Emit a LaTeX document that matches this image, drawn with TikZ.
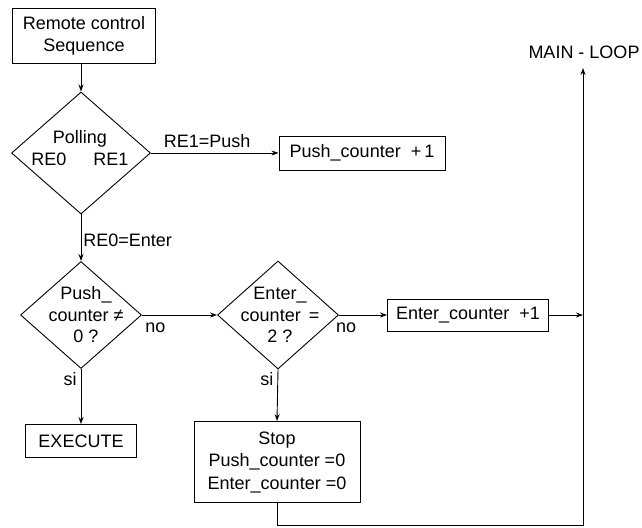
\documentclass[tikz,border=0pt]{standalone}
\usepackage{fontspec}
\setmainfont{Liberation Sans}
\usetikzlibrary{arrows.meta,shapes.geometric}

\begin{document}
\begin{tikzpicture}[x=1pt,y=-1pt,>={Stealth[length=7pt,width=5pt]},line width=0.9pt,
  every node/.style={font=\fontsize{18}{22}\selectfont},
  box/.style={draw,rectangle,inner sep=0pt,align=center},
  dia/.style={draw,diamond,inner sep=0pt},
  txt/.style={align=center,inner sep=0pt},
  lbl/.style={inner sep=2pt}]
\useasboundingbox (0,0) rectangle (642,527);
\node[box,minimum width=143pt,minimum height=55pt] (seq) at (84,36) {Remote control\\Sequence};
\node[dia,minimum width=139pt,minimum height=122pt] (poll) at (81,153) {};
\node[txt] (pollT) at (80,148) {Polling\\RE0\hspace{1.5em}RE1};
\node[box,minimum width=166pt,minimum height=34pt] (push) at (362,153) {Push\_counter\ \ +\,1};
\node[dia,minimum width=121pt,minimum height=107pt] (pushq) at (81,315) {};
\node[txt,font=\fontsize{18}{21.5}\selectfont] (pushqT) at (86,315) {Push\_\\counter ≠\\0 ?};
\node[box,minimum width=111pt,minimum height=33pt] (exec) at (81,441) {EXECUTE};
\node[dia,minimum width=121pt,minimum height=108pt] (enterq) at (278,315) {};
\node[txt,font=\fontsize{18}{21.5}\selectfont] (enterqT) at (280,315) {Enter\_\\counter \,=\\2 ?};
\node[box,minimum width=161pt,minimum height=32pt] (enter1) at (468,315) {Enter\_counter\ \ +1};
\node[box,minimum width=166pt,minimum height=81pt,font=\fontsize{18}{22.5}\selectfont] (stop) at (277,462) {Stop\\Push\_counter =0\\Enter\_counter =0};
\node (mainloop) at (584,52) {MAIN - LOOP};
\coordinate (bot) at (583,525);
\coordinate (top) at (583,68);
\draw[->] (seq.south -| poll.north) -- (poll.north);
\draw[->] (poll.east) -- node[lbl,above,pos=0.44,yshift=3pt]{RE1=Push} (push.west);
\draw[->] (poll.south) -- node[lbl,right,pos=0.56]{RE0=Enter} (pushq.north);
\draw[->] (pushq.east) -- node[lbl,below,pos=0.18,yshift=-5pt]{no} (enterq.west);
\draw[->] (pushq.south) -- node[lbl,left,pos=0.18,inner sep=4pt]{si} (exec.north);
\draw[->] (enterq.east) -- node[lbl,below,pos=0.15,yshift=-5pt]{no} (enter1.west);
\draw[->] (enterq.south) -- node[lbl,left,pos=0.18,inner sep=4pt]{si} (stop.north);
\draw[->] (enter1.east) -- (enter1.east -| top);
\draw[->] (stop.south) |- (bot) -- (top);
\end{tikzpicture}
\end{document}
